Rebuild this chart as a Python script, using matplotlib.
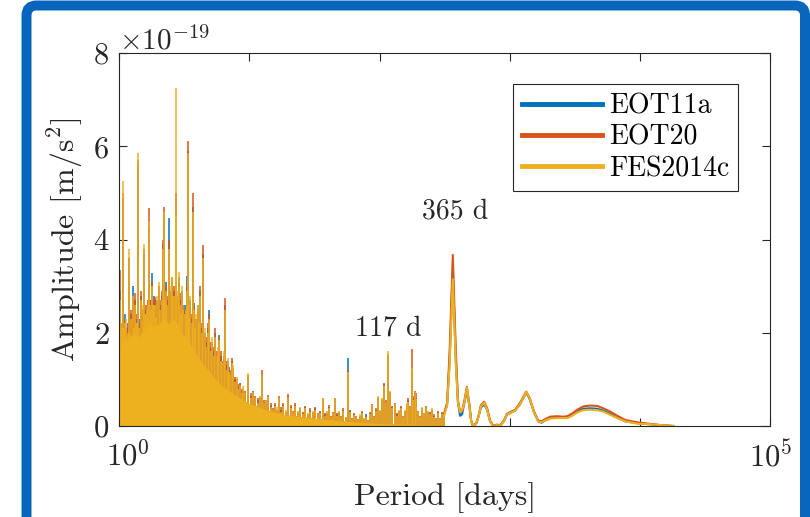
import matplotlib
matplotlib.use("Agg")
import matplotlib.pyplot as plt
import matplotlib.transforms as mtransforms
import numpy as np
from matplotlib.lines import Line2D
from matplotlib.patches import FancyBboxPatch
from matplotlib.ticker import ScalarFormatter

plt.rcParams['font.family'] = 'cmr10'
plt.rcParams['mathtext.fontset'] = 'cm'
plt.rcParams['axes.formatter.use_mathtext'] = True
plt.rcParams['font.size'] = 22

# Amplitudes are given in units of 1e-19 m/s^2
scale = 1e-19
models = ['EOT11a', 'EOT20', 'FES2014c']
colors = ['#0072BD', '#D95319', '#EDB120']

# Spectral lines in the short-period part [days]
spike_period = [
    1.00, 1.02, 1.04, 1.06, 1.073, 1.09, 1.11, 1.13, 1.152, 1.17,
    1.19, 1.21, 1.236, 1.26, 1.29, 1.31, 1.33, 1.36, 1.38, 1.406,
    1.43, 1.47, 1.50, 1.53, 1.556, 1.58, 1.61, 1.64, 1.67, 1.70,
    1.73, 1.75, 1.78, 1.82, 1.85, 1.89, 1.93, 1.97, 2.04, 2.08,
    2.12, 2.17, 2.216, 2.26, 2.30, 2.35, 2.434, 2.49, 2.54, 2.60,
    2.65, 2.72, 2.76, 2.81, 2.86, 2.94, 3.00, 3.06, 3.12, 3.18,
    3.25, 3.31, 3.36, 3.407, 3.46, 3.53, 3.60, 3.68, 3.76, 3.84,
    3.92, 4.02, 4.10, 4.20, 4.30, 4.44, 4.55, 4.68, 4.80, 4.94,
    5.05, 5.18, 5.32, 5.46, 5.60, 5.75, 5.89, 6.05, 6.20, 6.35,
    6.52, 6.70, 6.85, 7.00, 7.17, 7.34, 7.55, 7.80, 8.06, 8.25,
    8.50, 8.75, 9.00, 9.30, 9.84, 10.3, 10.7, 11.08, 11.6, 12.0,
    12.47, 12.9, 13.4, 14.02, 14.6, 15.2, 15.8, 16.4, 16.93, 17.6,
    18.2, 19.0, 19.97, 20.8, 21.5, 22.4, 23.5, 24.5, 25.7, 26.8,
    28.0, 29.3, 30.7, 32.0, 33.8, 35.0, 36.7, 38.2, 39.6, 41.0,
    42.5, 44.0, 45.6, 47.3, 48.96, 50.8, 52.55, 54.8, 57.7, 59.5,
    61.6, 64.0, 66.1, 68.5, 71.0, 73.5, 76.2, 78.8, 81.7, 84.5,
    87.7, 90.5, 94.2, 97.5, 101, 104.5, 108.5, 112, 117, 121,
    125.5, 131.8, 136, 141.4, 146, 151.8, 156, 162, 166, 171,
    176, 181, 186, 191, 198, 205, 212.5, 220, 228, 236,
    244.7, 253, 262.7, 272, 282, 292, 302.6, 313,
]
spike_eot11a = [
    1.6, 2.9, 2.0, 2.2, 4.9, 1.9, 2.4, 1.9, 2.0, 2.2,
    3.6, 2.1, 2.4, 2.0, 3.0, 2.2, 2.7, 2.1, 2.3, 5.6,
    2.3, 2.8, 2.1, 2.4, 3.7, 2.2, 2.5, 2.3, 2.6, 4.3,
    2.7, 2.6, 3.28, 2.4, 2.8, 2.7, 2.4, 2.7, 3.0, 2.6,
    2.8, 3.9, 4.5, 2.8, 3.1, 2.7, 4.46, 2.9, 3.1, 2.7,
    2.9, 4.9, 4.8, 2.8, 3.2, 2.7, 2.5, 2.9, 2.4, 2.6,
    2.3, 3.22, 2.9, 5.9, 2.4, 2.7, 2.3, 4.7, 2.63, 2.2,
    2.3, 2.5, 2.0, 2.9, 2.1, 3.7, 2.0, 1.8, 2.1, 2.49,
    1.7, 1.8, 1.6, 2.0, 1.5, 1.6, 1.95, 1.5, 1.3, 1.5,
    2.6, 1.3, 1.4, 1.27, 1.1, 1.4, 1.2, 1.0, 0.95, 0.85,
    0.92, 0.75, 0.8, 0.7, 1.08, 0.65, 0.75, 0.6, 0.55, 0.62,
    1.1, 0.5, 0.55, 0.6, 0.45, 0.35, 0.45, 0.35, 0.6, 0.35,
    0.45, 0.3, 0.64, 0.4, 0.3, 0.45, 0.3, 0.38, 0.28, 0.4,
    0.25, 0.35, 0.28, 0.38, 0.25, 0.3, 0.58, 0.25, 0.3, 0.4,
    0.2, 0.28, 0.6, 0.25, 0.3, 0.2, 0.35, 0.18, 1.45, 0.35,
    0.15, 0.25, 0.2, 0.12, 0.22, 0.3, 0.15, 0.25, 0.1, 0.28,
    0.45, 0.2, 0.35, 0.6, 0.3, 0.55, 0.9, 0.5, 1.5, 0.7,
    0.4, 0.45, 0.25, 0.32, 0.4, 0.2, 0.3, 0.45, 0.55, 0.4,
    1.2, 0.6, 0.73, 0.6, 0.3, 0.2, 0.35, 0.25, 0.4, 0.3,
    0.28, 0.35, 0.22, 0.15, 0.3, 0.15, 0.28, 0.25,
]
spike_eot20 = [
    1.7, 3.35, 2.1, 2.2, 5.0, 2.0, 2.3, 2.0, 2.1, 2.1,
    3.6, 2.2, 2.5, 2.1, 2.8, 2.3, 2.85, 2.0, 2.4, 5.7,
    2.2, 2.9, 2.3, 2.5, 3.8, 2.3, 2.6, 2.2, 2.7, 4.68,
    2.7, 2.7, 3.1, 2.5, 2.7, 2.77, 2.3, 2.6, 3.0, 2.7,
    2.9, 4.0, 4.7, 2.9, 3.0, 2.8, 4.0, 2.8, 3.2, 2.6,
    3.0, 5.0, 5.0, 2.7, 3.1, 2.85, 2.6, 2.8, 2.6, 2.5,
    2.4, 3.0, 2.7, 6.12, 2.5, 2.6, 2.4, 5.0, 2.55, 2.3,
    2.2, 2.6, 2.1, 3.0, 2.2, 3.88, 1.9, 1.9, 2.2, 2.4,
    1.8, 1.7, 1.7, 2.1, 1.6, 1.5, 1.9, 1.6, 1.4, 1.5,
    2.75, 1.4, 1.3, 1.2, 1.2, 1.46, 1.25, 1.05, 1.0, 0.9,
    0.9, 0.8, 0.75, 0.75, 1.1, 0.7, 0.7, 0.65, 0.6, 0.6,
    1.2, 0.55, 0.5, 0.67, 0.5, 0.38, 0.5, 0.35, 0.64, 0.4,
    0.5, 0.3, 0.69, 0.45, 0.32, 0.5, 0.3, 0.35, 0.3, 0.42,
    0.25, 0.38, 0.3, 0.4, 0.27, 0.32, 0.6, 0.27, 0.28, 0.45,
    0.22, 0.3, 0.6, 0.28, 0.3, 0.22, 0.38, 0.2, 1.2, 0.32,
    0.18, 0.27, 0.22, 0.15, 0.2, 0.32, 0.15, 0.22, 0.12, 0.3,
    0.48, 0.22, 0.38, 0.62, 0.32, 0.58, 0.92, 0.55, 1.55, 0.72,
    0.42, 0.5, 0.28, 0.3, 0.42, 0.22, 0.32, 0.48, 0.6, 0.42,
    1.65, 0.65, 0.75, 0.7, 0.32, 0.22, 0.38, 0.27, 0.42, 0.3,
    0.3, 0.33, 0.25, 0.18, 0.32, 0.18, 0.3, 0.27,
]
spike_fes = [
    1.6, 2.7, 2.2, 2.1, 5.25, 2.1, 2.2, 2.3, 1.9, 2.0,
    3.8, 2.0, 2.3, 1.9, 2.8, 2.1, 2.6, 2.2, 2.2, 5.85,
    2.1, 2.7, 2.0, 2.6, 3.9, 2.4, 2.4, 2.5, 2.6, 4.4,
    2.6, 2.5, 3.0, 2.6, 2.6, 2.6, 2.35, 2.8, 3.1, 2.5,
    2.7, 3.8, 4.6, 2.7, 2.9, 2.6, 3.8, 3.0, 3.2, 2.8,
    2.8, 7.25, 4.5, 2.9, 3.3, 2.6, 2.4, 3.0, 2.5, 2.4,
    2.5, 2.9, 2.6, 5.85, 2.3, 2.8, 2.2, 4.6, 2.5, 2.1,
    2.4, 2.6, 2.2, 2.8, 2.0, 3.6, 2.1, 1.7, 2.0, 2.3,
    1.6, 1.9, 1.5, 1.9, 1.5, 1.7, 1.85, 1.4, 1.35, 1.6,
    2.5, 1.2, 1.45, 1.15, 1.1, 1.35, 1.3, 0.95, 1.05, 0.8,
    0.88, 0.7, 0.85, 0.7, 1.13, 0.6, 0.72, 0.6, 0.5, 0.65,
    1.1, 0.5, 0.55, 0.62, 0.4, 0.35, 0.42, 0.4, 0.6, 0.3,
    0.42, 0.35, 0.62, 0.38, 0.3, 0.44, 0.32, 0.4, 0.25, 0.38,
    0.28, 0.3, 0.32, 0.35, 0.25, 0.28, 0.6, 0.22, 0.32, 0.38,
    0.2, 0.27, 0.6, 0.22, 0.32, 0.2, 0.33, 0.2, 1.15, 0.3,
    0.15, 0.23, 0.2, 0.12, 0.25, 0.28, 0.18, 0.2, 0.1, 0.25,
    0.46, 0.2, 0.33, 0.65, 0.35, 0.6, 0.85, 0.5, 1.6, 0.75,
    0.38, 0.48, 0.22, 0.35, 0.38, 0.2, 0.35, 0.5, 0.52, 0.4,
    1.24, 0.55, 0.73, 0.58, 0.3, 0.2, 0.4, 0.28, 0.4, 0.32,
    0.25, 0.38, 0.2, 0.15, 0.28, 0.14, 0.26, 0.22,
]

# Dense background of the short-period band
body_period = [1.0, 1.05, 1.1, 1.2, 1.3, 1.4, 1.5, 1.6, 1.7, 1.8,
               2.0, 2.2, 2.4, 2.6, 2.8, 3.0, 3.3, 3.6, 4.0, 4.5,
               5.0, 5.5, 6.0, 7.0, 8.0, 9.0, 10, 12, 14, 17,
               20, 25, 30, 40, 50, 60, 80, 100, 150, 200, 300, 330]
body_amp = [1.5, 1.9, 1.8, 1.9, 2.0, 1.9, 2.0, 2.1, 2.2, 2.1,
            2.2, 2.3, 2.2, 2.3, 2.2, 2.0, 1.9, 1.7, 1.5, 1.3,
            1.15, 1.0, 0.9, 0.75, 0.65, 0.55, 0.48, 0.4, 0.33, 0.27,
            0.23, 0.2, 0.17, 0.14, 0.11, 0.09, 0.07, 0.05, 0.04, 0.03, 0.02, 0.0]

# Smooth long-period part [days]
long_period = [
    313, 330, 345, 365, 385, 400, 415, 430, 448, 468,
    488, 505, 520, 552, 575, 600, 636, 670, 705, 745,
    800, 844, 900, 950, 1007, 1100, 1200, 1336, 1420, 1530,
    1650, 1750, 1871, 2043, 2312, 2570, 2760, 3015, 3294, 3662,
    4146, 4690, 5218, 5902, 6681, 7696, 9513, 11560, 14290, 17980,
]
long_eot11a = [
    0.25, 0.45, 1.4, 3.3, 1.4, 0.5, 0.22, 0.25, 0.5, 0.75,
    0.45, 0.1, 0.0, 0.05, 0.2, 0.4, 0.46, 0.35, 0.1, 0.0,
    0.02, 0.01, 0.1, 0.24, 0.28, 0.33, 0.47, 0.72, 0.58, 0.3,
    0.1, 0.07, 0.12, 0.17, 0.19, 0.18, 0.18, 0.24, 0.31, 0.37,
    0.38, 0.37, 0.33, 0.26, 0.18, 0.1, 0.06, 0.04, 0.02, 0.0,
]
long_eot20 = [
    0.27, 0.5, 1.6, 3.67, 1.6, 0.55, 0.3, 0.32, 0.55, 0.84,
    0.5, 0.12, 0.01, 0.06, 0.22, 0.45, 0.52, 0.38, 0.12, 0.01,
    0.03, 0.02, 0.12, 0.26, 0.3, 0.35, 0.5, 0.74, 0.6, 0.32,
    0.12, 0.1, 0.15, 0.2, 0.21, 0.2, 0.21, 0.27, 0.35, 0.42,
    0.44, 0.43, 0.38, 0.31, 0.22, 0.13, 0.08, 0.05, 0.02, 0.0,
]
long_fes = [
    0.22, 0.45, 1.3, 3.15, 1.3, 0.5, 0.3, 0.33, 0.5, 0.82,
    0.45, 0.1, 0.0, 0.05, 0.2, 0.42, 0.5, 0.35, 0.1, 0.0,
    0.02, 0.01, 0.1, 0.25, 0.28, 0.33, 0.47, 0.73, 0.6, 0.3,
    0.1, 0.08, 0.12, 0.16, 0.17, 0.17, 0.17, 0.22, 0.29, 0.34,
    0.35, 0.34, 0.31, 0.24, 0.17, 0.1, 0.05, 0.04, 0.02, 0.0,
]

spike_sets = [spike_eot11a, spike_eot20, spike_fes]
long_sets = [long_eot11a, long_eot20, long_fes]

fig = plt.figure(figsize=(8.1, 5.17), dpi=100)
ax = fig.add_axes([0.147, 0.176, 0.804, 0.721])

for name, col, spk, lng in zip(models, colors, spike_sets, long_sets):
    ax.fill_between(body_period, 0, np.array(body_amp) * scale,
                    color=col, lw=0, zorder=2)
    ax.vlines(spike_period, 0, np.array(spk) * scale, color=col, lw=1.1, zorder=2)
    ax.plot(long_period, np.array(lng) * scale, color=col, lw=1.5, zorder=2)

ax.set_xscale('log')
ax.set_xlim(1, 1e5)
ax.set_ylim(0, 8e-19)
ax.set_xticks([1, 10, 100, 1e3, 1e4, 1e5])
ax.set_xticklabels(['$10^0$', '', '', '', '', '$10^5$'])
ax.xaxis.set_minor_locator(matplotlib.ticker.NullLocator())
ax.set_yticks(np.array([0, 2, 4, 6, 8]) * scale)
fmt = ScalarFormatter(useMathText=True)
fmt.set_powerlimits((-3, 3))
ax.yaxis.set_major_formatter(fmt)

edge = '#262626'
for sp in ax.spines.values():
    sp.set_color(edge)
    sp.set_linewidth(0.8)
ax.tick_params(direction='in', length=6, width=0.8, colors=edge,
               top=True, right=True, labelsize=22)
ax.tick_params(axis='x', pad=10)
ax.tick_params(axis='y', pad=7)
ax.yaxis.get_offset_text().set_fontsize(21)

# nudge the first decade label clear of the y tick labels
first = ax.get_xticklabels()[0]
first.set_transform(first.get_transform() +
                    mtransforms.ScaledTranslation(6 / 72, 0, fig.dpi_scale_trans))

ax.set_xlabel('Period [days]', fontsize=23, color=edge, labelpad=7)
ax.set_ylabel('Amplitude [m/s$^2$]', fontsize=23, color=edge, labelpad=6)

ax.text(117, 2.1e-19, '117 d', ha='center', va='center', fontsize=20, color=edge)
ax.text(380, 4.6e-19, '365 d', ha='center', va='center', fontsize=20, color=edge)

handles = [Line2D([], [], color=c, lw=3.5) for c in colors]
leg = ax.legend(handles, models, loc='upper right', bbox_to_anchor=(0.951, 0.917),
                borderaxespad=0, fancybox=False, framealpha=1, edgecolor=edge,
                handlelength=2.9, handletextpad=0.25, labelspacing=0.18,
                borderpad=0.32, fontsize=20)
leg.get_frame().set_linewidth(0.8)

# Slide frame around the figure
frame = FancyBboxPatch((0.265, -0.4), 7.785, 5.515,
                       boxstyle='round,pad=0,rounding_size=0.1',
                       transform=fig.dpi_scale_trans, fill=False,
                       edgecolor='#0866BD', linewidth=7.2, clip_on=False)
fig.add_artist(frame)

fig.savefig('out.png', dpi=100)
